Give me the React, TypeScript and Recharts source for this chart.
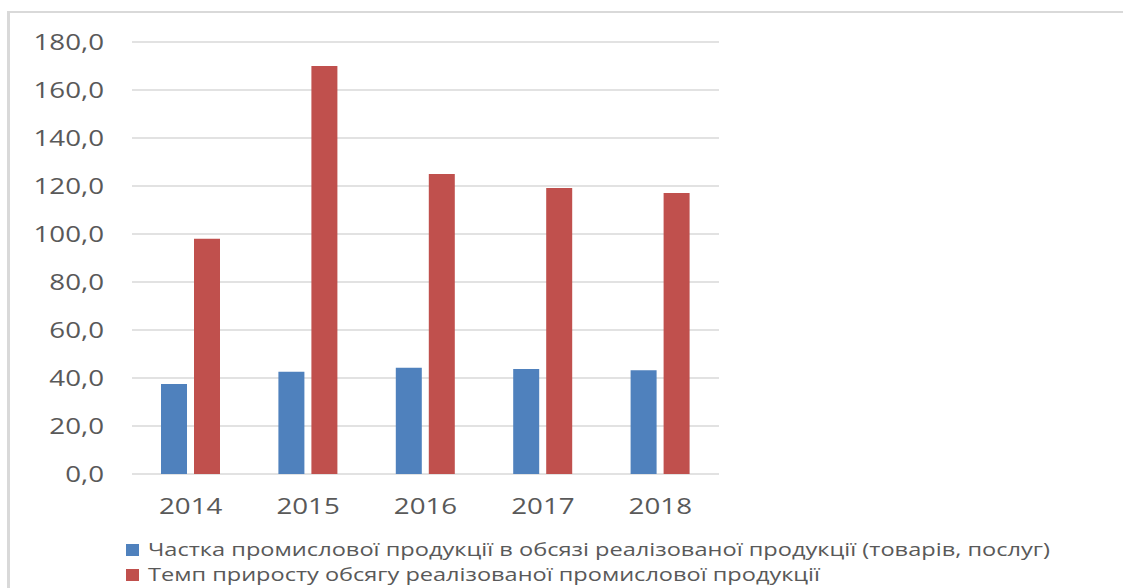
import React from 'react';
import { BarChart, Bar, XAxis, YAxis, CartesianGrid } from 'recharts';

const categories = ['2014', '2015', '2016', '2017', '2018'];
const shareValues = [37.5, 42.6, 44.3, 43.8, 43.2];
const growthValues = [98.0, 170.0, 125.0, 119.2, 117.1];
const yTicks = [0, 20, 40, 60, 80, 100, 120, 140, 160, 180];
const seriesNames = [
  'Частка промислової продукції в обсязі реалізованої продукції (товарів, послуг)',
  'Темп приросту обсягу реалізованої промислової продукції',
];
const seriesColors = ['#4f81bd', '#c0504d'];

const data = categories.map((c, i) => ({ year: c, share: shareValues[i], growth: growthValues[i] }));

const FONT = '"Open Sans", "Noto Sans", sans-serif';
const TEXT_COLOR = '#595959';
const STRETCH = 1.26;

const fmt = (v: number) => v.toFixed(1).replace('.', ',');

const YTick = (props: any) => {
  const { x, y, payload } = props;
  return (
    <g transform={`translate(${x},${y}) scale(${STRETCH},1)`}>
      <text x={0} y={0} dy={8.2} textAnchor="end" fill={TEXT_COLOR} fontSize={22} fontFamily={FONT}>
        {fmt(payload.value)}
      </text>
    </g>
  );
};

const XTick = (props: any) => {
  const { x, y, payload } = props;
  return (
    <g transform={`translate(${x},${y}) scale(${STRETCH},1)`}>
      <text x={0} y={0} dy={40} textAnchor="middle" fill={TEXT_COLOR} fontSize={22} fontFamily={FONT}>
        {payload.value}
      </text>
    </g>
  );
};

const legendWidths = [902, 672];

export default function App() {
  return (
    <div style={{ position: 'fixed', left: 0, top: 0, width: 1123, height: 588, overflow: 'hidden', background: '#fff' }}>
      <div
        style={{
          position: 'absolute',
          left: 7,
          top: 11,
          width: 1300,
          height: 800,
          borderLeft: '3px solid #d9d9d9',
          borderTop: '2px solid #d9d9d9',
        }}
      />
      <div style={{ position: 'absolute', left: 0, top: 0 }}>
        <BarChart
          width={1123}
          height={588}
          data={data}
          margin={{ top: 42, right: 404, bottom: 84, left: 0 }}
          barSize={26}
          barGap={7}
        >
          <CartesianGrid vertical={false} stroke="#d9d9d9" strokeWidth={1.3} />
          <XAxis
            dataKey="year"
            height={30}
            axisLine={false}
            tickLine={false}
            tickSize={0}
            tickMargin={0}
            tick={<XTick />}
            interval={0}
          />
          <YAxis
            width={132}
            domain={[0, 180]}
            ticks={yTicks}
            interval={0}
            axisLine={false}
            tickLine={false}
            tickSize={0}
            tickMargin={28}
            tick={<YTick />}
          />
          <Bar dataKey="share" name={seriesNames[0]} fill={seriesColors[0]} isAnimationActive={false} />
          <Bar dataKey="growth" name={seriesNames[1]} fill={seriesColors[1]} isAnimationActive={false} />
        </BarChart>
      </div>
      <svg style={{ position: 'absolute', left: 0, top: 0 }} width={1123} height={588}>
        {seriesNames.map((name, i) => (
          <g key={name}>
            <rect x={126} y={544 + i * 25} width={13} height={12} fill={seriesColors[i]} />
            <text
              x={148}
              y={556 + i * 25}
              fontSize={18}
              fontFamily={FONT}
              fill={TEXT_COLOR}
              textLength={legendWidths[i]}
              lengthAdjust="spacingAndGlyphs"
            >
              {name}
            </text>
          </g>
        ))}
      </svg>
    </div>
  );
}
